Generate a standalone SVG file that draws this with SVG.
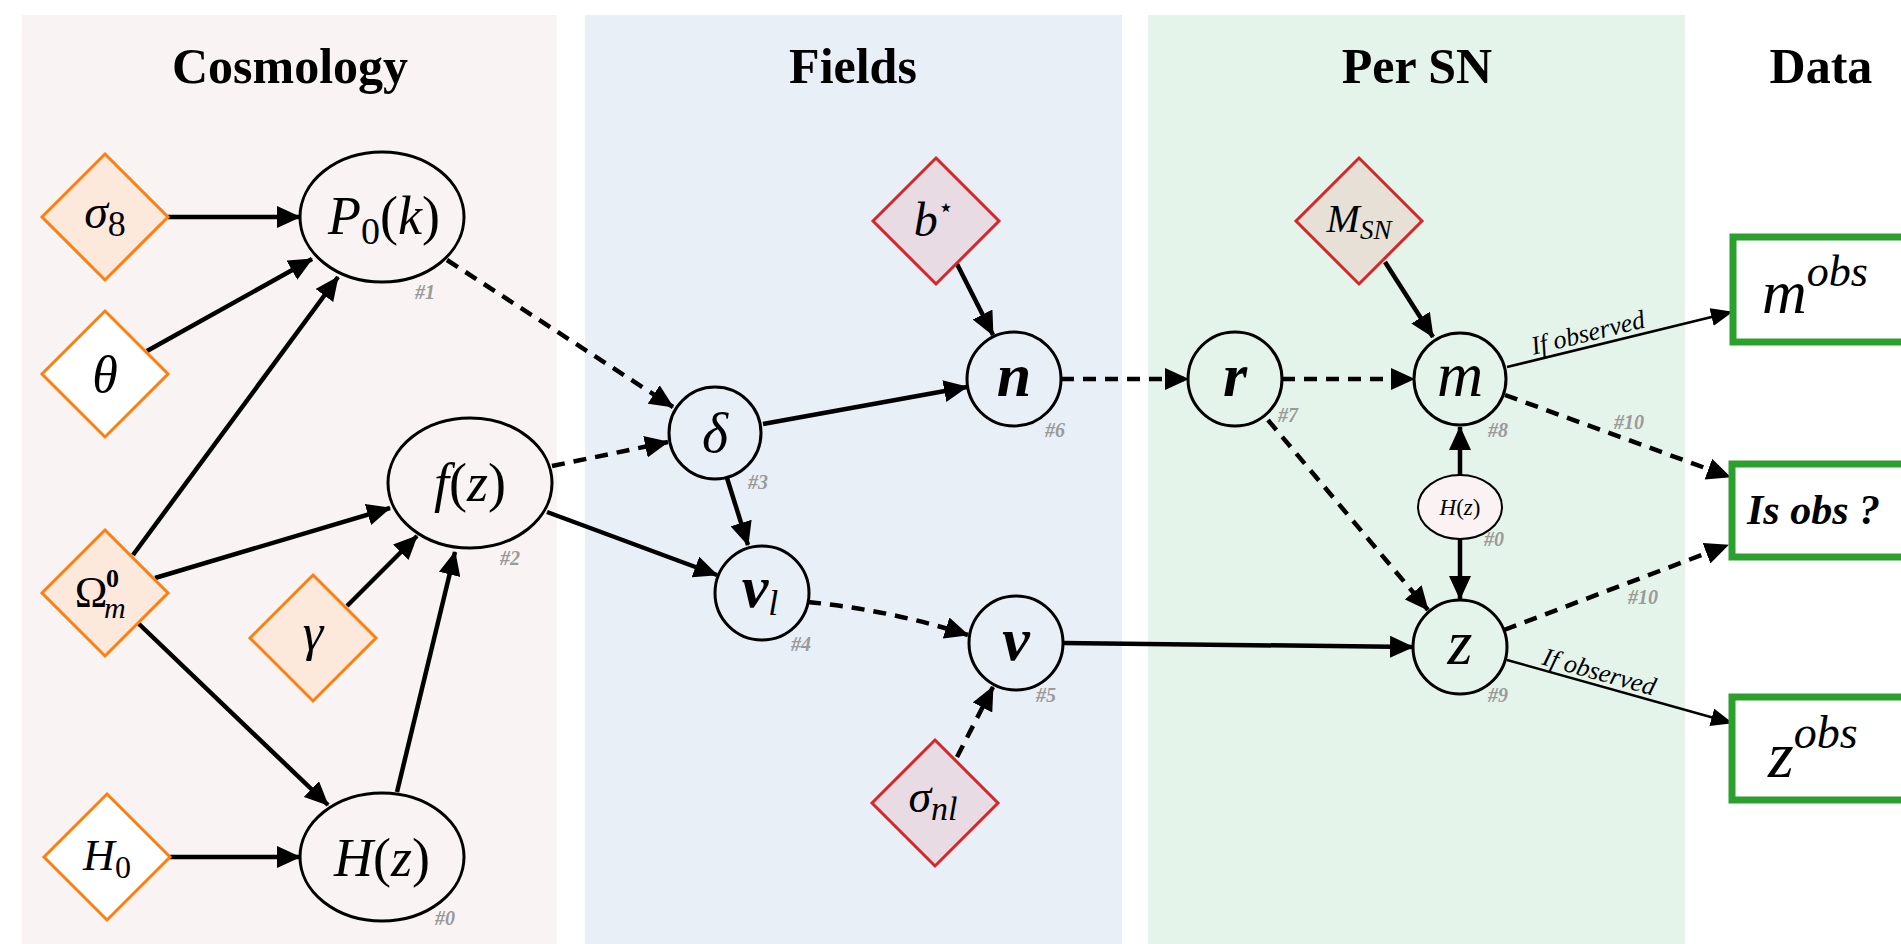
<svg xmlns="http://www.w3.org/2000/svg" width="1901" height="944" viewBox="0 0 1901 944">
<defs>
<style>
.panel{stroke:none}
.title{font-family:"Liberation Serif",serif;font-weight:bold;font-size:50px;text-anchor:middle;fill:#000}
.m{font-family:"Liberation Serif","DejaVu Serif",serif;font-style:italic;fill:#000;text-anchor:middle}
.ms{font-family:"Liberation Serif","DejaVu Serif",serif;font-style:italic;fill:#000;text-anchor:start}
.up{font-style:normal}
.num{font-family:"Liberation Serif",serif;font-style:italic;font-weight:bold;font-size:20px;fill:#9a9a9a;text-anchor:middle}
.dia-o{stroke:#ff7f0e;stroke-width:3}
.dia-r{stroke:#d62728;stroke-width:3}
.nd{fill:none;stroke:#000;stroke-width:3}
.box{fill:#fff;stroke:#2ca02c;stroke-width:7}
.s{fill:none;stroke:#000;stroke-width:4.5;marker-end:url(#ah)}
.d{fill:none;stroke:#000;stroke-width:4.5;stroke-dasharray:13 9;marker-end:url(#ah)}
.t{fill:none;stroke:#000;stroke-width:2.5;marker-end:url(#ah2)}
.lab{font-family:"Liberation Serif",serif;font-style:italic;font-size:26px;fill:#000;text-anchor:middle}
</style>
<marker id="ah" viewBox="0 0 24 22" refX="23" refY="11" markerWidth="24" markerHeight="22" markerUnits="userSpaceOnUse" orient="auto"><path d="M0,0 L24,11 L0,22 z" fill="#000"/></marker>
<marker id="ah2" viewBox="0 0 22 18" refX="21" refY="9" markerWidth="22" markerHeight="18" markerUnits="userSpaceOnUse" orient="auto"><path d="M0,0 L22,9 L0,18 z" fill="#000"/></marker>
</defs>
<rect x="0" y="0" width="1901" height="944" fill="#fff"/>
<g id="panels">
<rect class="panel" x="22" y="15" width="535" height="929" fill="#f9f3f3"/>
<rect class="panel" x="585" y="15" width="537" height="929" fill="#e8eff7"/>
<rect class="panel" x="1148" y="15" width="537" height="929" fill="#e4f4ea"/>
<text class="title" x="290" y="83">Cosmology</text>
<text class="title" x="853" y="83">Fields</text>
<text class="title" x="1417" y="83">Per SN</text>
<text class="title" x="1821" y="83">Data</text>
</g>
<g id="connectors">
<line class="s" x1="168" y1="217" x2="300" y2="217"/>
<line class="s" x1="147" y1="351" x2="312" y2="259"/>
<line class="s" x1="133" y1="555" x2="338" y2="277"/>
<line class="s" x1="155" y1="578" x2="390" y2="508"/>
<line class="s" x1="347" y1="606" x2="417" y2="536"/>
<line class="s" x1="138" y1="623" x2="328" y2="805"/>
<line class="s" x1="170" y1="857" x2="300" y2="857"/>
<line class="s" x1="397" y1="792" x2="455" y2="552"/>
<line class="d" x1="447" y1="260" x2="673" y2="407"/>
<line class="d" x1="552" y1="466" x2="668" y2="442"/>
<line class="s" x1="547" y1="512" x2="717" y2="575"/>
<line class="s" x1="763" y1="424" x2="967" y2="387"/>
<line class="s" x1="727" y1="478" x2="748" y2="545"/>
<line class="s" x1="957" y1="264" x2="993" y2="335"/>
<path class="d" d="M808,602 Q890,610 968,635"/>
<line class="d" x1="957" y1="757" x2="993" y2="687"/>
<line class="d" x1="1061" y1="379" x2="1188" y2="379"/>
<line class="d" x1="1282" y1="379" x2="1414" y2="379"/>
<line class="d" x1="1268" y1="420" x2="1428" y2="610"/>
<line class="s" x1="1385" y1="262" x2="1433" y2="337"/>
<line class="s" x1="1063" y1="643" x2="1413" y2="647"/>
<line class="s" x1="1460" y1="475" x2="1460" y2="427"/>
<line class="s" x1="1460" y1="539" x2="1460" y2="599"/>
<line class="t" x1="1507" y1="367" x2="1732" y2="312"/>
<line class="d" x1="1505" y1="395" x2="1730" y2="477"/>
<line class="d" x1="1504" y1="630" x2="1728" y2="545"/>
<line class="t" x1="1507" y1="660" x2="1732" y2="723"/>
<text class="lab" transform="translate(1590,341) rotate(-13.7)">If observed</text>
<text class="lab" transform="translate(1597,680) rotate(15.6)">If observed</text>
<text class="num" x="1629" y="429">#10</text>
<text class="num" x="1643" y="604">#10</text>
</g>
<g id="sigma8">
<polygon class="dia-o" points="105,154 168,217 105,280 42,217" fill="#fde8dc"/>
<text class="m" x="105" y="228" font-size="48">σ<tspan class="up" font-size="36" dy="8">8</tspan></text>
</g>
<g id="theta">
<polygon class="dia-o" points="105,311 168,374 105,437 42,374" fill="#fff"/>
<text class="m" x="105" y="392" font-size="52">θ</text>
</g>
<g id="omega">
<polygon class="dia-o" points="105,530 168,593 105,656 42,593" fill="#fde8dc"/>
<text class="m" x="91" y="607" font-size="44"><tspan class="up">Ω</tspan></text>
<text class="ms" x="106" y="587" font-size="26" font-weight="bold" style="font-style:normal">0</text>
<text class="ms" x="104" y="618" font-size="30">m</text>
</g>
<g id="gamma">
<polygon class="dia-o" points="313,575 376,638 313,701 250,638" fill="#fde8dc"/>
<text class="m" x="313" y="650" font-size="52">γ</text>
</g>
<g id="H0">
<polygon class="dia-o" points="107,794 170,857 107,920 44,857" fill="#fff"/>
<text class="m" x="107" y="870" font-size="44">H<tspan class="up" font-size="32" dy="8">0</tspan></text>
</g>
<g id="P0k">
<ellipse class="nd" cx="382" cy="217" rx="82" ry="65" fill="none"/>
<text class="m" x="384" y="234" font-size="54">P<tspan class="up" font-size="38" dy="10">0</tspan><tspan class="up" dy="-10">(</tspan>k<tspan class="up">)</tspan></text>
<text class="num" x="425" y="299">#1</text>
</g>
<g id="fz">
<ellipse class="nd" cx="470" cy="483" rx="82" ry="65"/>
<text class="m" x="470" y="501" font-size="54">f<tspan class="up">(</tspan>z<tspan class="up">)</tspan></text>
<text class="num" x="510" y="565">#2</text>
</g>
<g id="Hz">
<ellipse class="nd" cx="382" cy="857" rx="82" ry="64"/>
<text class="m" x="382" y="876" font-size="54">H<tspan class="up">(</tspan>z<tspan class="up">)</tspan></text>
<text class="num" x="445" y="925">#0</text>
</g>
<g id="delta">
<circle class="nd" cx="715" cy="433" r="46"/>
<text class="m" x="715" y="452" font-size="56">δ</text>
<text class="num" x="758" y="489">#3</text>
</g>
<g id="vl">
<circle class="nd" cx="762" cy="593" r="47"/>
<text class="m" x="760" y="607" font-size="60" font-weight="bold">v<tspan font-weight="normal" font-size="36" dy="8">l</tspan></text>
<text class="num" x="801" y="651">#4</text>
</g>
<g id="bstar">
<polygon class="dia-r" points="936,158 999,221 936,284 873,221" fill="#e8dbe3"/>
<text class="m" x="934" y="236" font-size="48">b<tspan class="up" font-family="DejaVu Sans,sans-serif" font-size="26" dy="-20">⋆</tspan></text>
</g>
<g id="n">
<circle class="nd" cx="1014" cy="379" r="47"/>
<text class="m" x="1014" y="396" font-size="62" font-weight="bold">n</text>
<text class="num" x="1055" y="437">#6</text>
</g>
<g id="v">
<circle class="nd" cx="1016" cy="643" r="47"/>
<text class="m" x="1016" y="660" font-size="62" font-weight="bold">v</text>
<text class="num" x="1046" y="702">#5</text>
</g>
<g id="sigmanl">
<polygon class="dia-r" points="935,740 998,803 935,866 872,803" fill="#e8dbe3"/>
<text class="m" x="933" y="812" font-size="46">σ<tspan font-size="34" dy="8">nl</tspan></text>
</g>
<g id="r">
<circle class="nd" cx="1235" cy="379" r="47"/>
<text class="m" x="1235" y="396" font-size="62" font-weight="bold">r</text>
<text class="num" x="1288" y="422">#7</text>
</g>
<g id="MSN">
<polygon class="dia-r" points="1359,158 1422,221 1359,284 1296,221" fill="#e6e0d6"/>
<text class="m" x="1359" y="232" font-size="40">M<tspan font-size="27" dy="7">SN</tspan></text>
</g>
<g id="m">
<circle class="nd" cx="1460" cy="379" r="46"/>
<text class="m" x="1460" y="396" font-size="64">m</text>
<text class="num" x="1498" y="437">#8</text>
</g>
<g id="Hz2">
<ellipse cx="1460" cy="507" rx="42" ry="32" fill="#fbf3f3" stroke="#000" stroke-width="2"/>
<text class="m" x="1460" y="515" font-size="23">H<tspan class="up">(</tspan>z<tspan class="up">)</tspan></text>
<text class="num" x="1494" y="546" font-size="15">#0</text>
</g>
<g id="z">
<circle class="nd" cx="1460" cy="647" r="47"/>
<text class="m" x="1460" y="664" font-size="64">z</text>
<text class="num" x="1498" y="702">#9</text>
</g>
<g id="mobs">
<rect class="box" x="1733" y="237" width="200" height="105"/>
<text class="ms" x="1762" y="313" font-size="62">m<tspan font-size="44" dy="-27">obs</tspan></text>
</g>
<g id="isobs">
<rect class="box" x="1732" y="464" width="200" height="93"/>
<text class="ms" x="1747" y="524" font-size="42" font-weight="bold">Is obs ?</text>
</g>
<g id="zobs">
<rect class="box" x="1732" y="697" width="200" height="103"/>
<text class="ms" x="1768" y="777" font-size="66">z<tspan font-size="46" dy="-29">obs</tspan></text>
</g>
</svg>
